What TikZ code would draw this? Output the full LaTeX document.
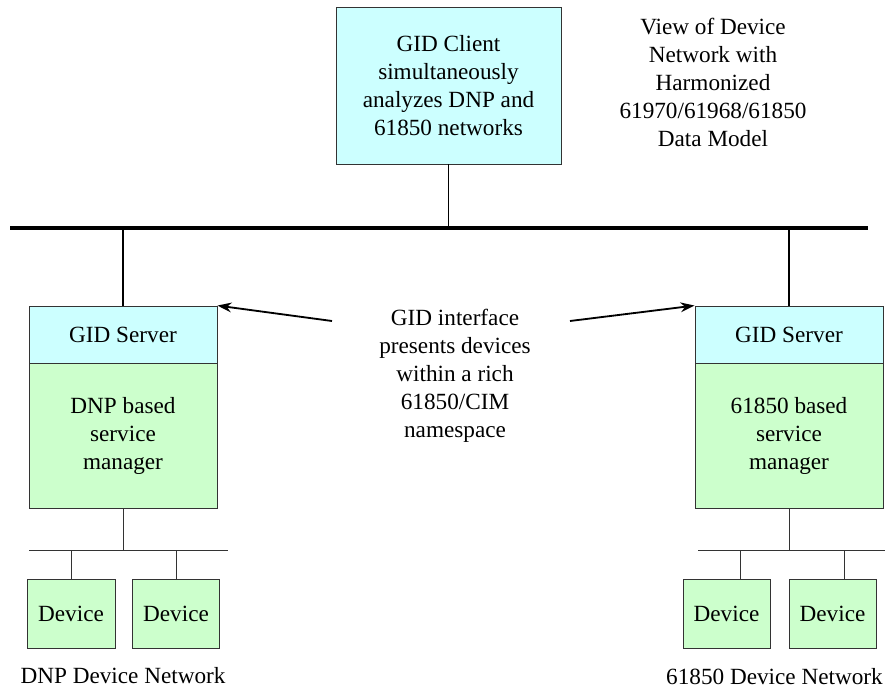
\documentclass[tikz,border=0pt]{standalone}
\usepackage{fontspec}
\setmainfont{Liberation Serif}
\usetikzlibrary{arrows.meta, positioning}
\definecolor{gidcyan}{HTML}{CCFFFF}
\definecolor{gidgreen}{HTML}{CCFFCC}
\tikzset{
  txt/.style={align=center, font=\fontsize{16.5}{19.9}\selectfont},
  cbox/.style={txt, draw=black!80, line width=0.6pt, fill=gidcyan, inner sep=0pt},
  gbox/.style={txt, draw=black!80, line width=0.6pt, fill=gidgreen, inner sep=0pt},
  wire/.style={line width=0.6pt, black!80},
  link/.style={line width=1.4pt},
  ptr/.style={line width=1.3pt, -{Stealth[length=10pt, width=7pt]}},
}

\begin{document}
\begin{tikzpicture}[x=0.025cm, y=-0.025cm]
\useasboundingbox (0,0) rectangle (885,689);
% client and main bus
\node[cbox, minimum width=5.625cm, minimum height=3.925cm] (client) at (448.5,85.5)%
{GID Client\\ simultaneously\\ analyzes DNP and\\ 61850 networks};
\coordinate (busL) at (10,228);
\coordinate (busR) at (868,228);
\draw [line width=2.2pt] (busL) -- (busR);
\draw [link] (client.south) -- (client.south |- busL);
\node[txt] (view) at (713,82)%
{View of Device\\ Network with\\ Harmonized\\ 61970/61968/61850\\ Data Model};

% left side: DNP
\node[cbox, minimum width=4.7cm, minimum height=1.425cm] (srvL) at (123,334.5)%
{GID Server};
\node[gbox, minimum width=4.7cm, minimum height=3.625cm, anchor=north] (mgrL) at (srvL.south)%
{DNP based\\ service\\ manager};
\draw [link] (srvL.north) -- (srvL.north |- busL);
\coordinate (lanL1) at (29,550);
\coordinate (lanL2) at (228,550);
\draw [wire] (lanL1) -- (lanL2);
\draw [wire] (mgrL.south) -- (mgrL.south |- lanL1);
\node[gbox, minimum width=2.2cm, minimum height=1.725cm] (devL1) at (71,613.5) {Device};
\node[gbox, minimum width=2.175cm, minimum height=1.725cm] (devL2) at (176,613.5) {Device};
\draw [wire] (devL1.north |- lanL1) -- (devL1.north);
\draw [wire] (devL2.north |- lanL1) -- (devL2.north);
\node[txt] (netL) at (123,676) {DNP Device Network};

% right side: 61850
\node[cbox, minimum width=4.7cm, minimum height=1.425cm] (srvR) at (789,334.5)%
{GID Server};
\node[gbox, minimum width=4.7cm, minimum height=3.625cm, anchor=north] (mgrR) at (srvR.south)%
{61850 based\\ service\\ manager};
\draw [link] (srvR.north) -- (srvR.north |- busR);
\coordinate (lanR1) at (698,550);
\coordinate (lanR2) at (890,550);
\draw [wire] (lanR1) -- (lanR2);
\draw [wire] (mgrR.south) -- (mgrR.south |- lanR1);
\node[gbox, minimum width=2.175cm, minimum height=1.725cm] (devR1) at (726.5,613.5) {Device};
\node[gbox, minimum width=2.175cm, minimum height=1.725cm] (devR2) at (832.5,613.5) {Device};
\coordinate (tapR1) at (740,550);
\coordinate (tapR2) at (844,550);
\draw [wire] (tapR1) -- (tapR1 |- devR1.north);
\draw [wire] (tapR2) -- (tapR2 |- devR2.north);
\node[txt, anchor=east, inner xsep=0pt] (netR) at (883,677) {61850 Device Network};

% interface note
\node[txt] (gidif) at (455,376)%
{GID interface\\ presents devices\\ within a rich\\ 61850/CIM\\ namespace};
\coordinate (ptrL) at (332,321);
\coordinate (ptrR) at (570,321);
\draw [ptr] (ptrL) -- (srvL.north east);
\draw [ptr] (ptrR) -- (srvR.north west);
\end{tikzpicture}
\end{document}
